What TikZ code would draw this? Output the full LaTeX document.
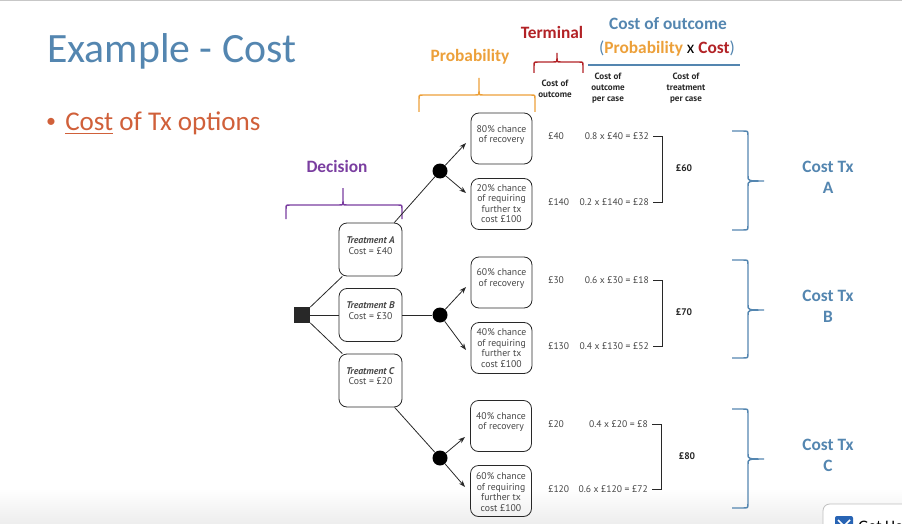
\documentclass[tikz,border=0pt]{standalone}
\usepackage{fontspec}
\setmainfont{Carlito}
\newfontfamily\tf{PT Sans}
\usetikzlibrary{arrows.meta,calc}
\definecolor{tblue}{RGB}{84,134,176}
\definecolor{borange}{RGB}{208,96,58}
\definecolor{porange}{RGB}{236,160,58}
\definecolor{tred}{RGB}{178,34,38}
\definecolor{dpurple}{RGB}{122,62,160}
\definecolor{ink}{RGB}{40,40,40}
\definecolor{txt}{RGB}{70,70,70}
\definecolor{wblue}{RGB}{40,100,180}
\newcommand\UpBrace[7]{\draw[#1] (#2,#7) -- (#2,#6+4) .. controls (#2,#6) .. (#2+4,#6) -- (#4-4,#6) .. controls (#4,#6) .. (#4,#6-4) -- (#4,#5) -- (#4,#6-4) .. controls (#4,#6) .. (#4+4,#6) -- (#3-4,#6) .. controls (#3,#6) .. (#3,#6+4) -- (#3,#7);}
\newcommand\RtBrace[4]{\draw[#1] (732,#2) -- (743,#2) .. controls (748,#2) .. (748,#2+5) -- (748,#3-5) .. controls (748,#3) .. (764,#3) .. controls (748,#3) .. (748,#3+5) -- (748,#4-5) .. controls (748,#4) .. (743,#4) -- (732,#4);}
\begin{document}
\begin{tikzpicture}[x=0.75pt,y=-0.75pt,
  tbox/.style={draw=ink, line width=0.6pt, rounded corners=6pt, minimum width=47.25pt, minimum height=39.75pt, inner sep=0pt},
  obox/.style={draw=ink, line width=0.6pt, rounded corners=6pt, minimum width=45.75pt, minimum height=38.25pt, inner sep=0pt},
  boxtxt/.style={font=\tf\fontsize{7.3}{7.9}\selectfont, text=txt, align=center, inner sep=0pt},
  chance/.style={circle, fill=black, minimum size=11.25pt, inner sep=0pt},
  decsq/.style={rectangle, fill=ink, minimum size=12pt, inner sep=0pt},
  edge/.style={draw=ink, line width=0.6pt},
  arr/.style={edge, -{Stealth[length=5pt,width=3.6pt]}},
  small/.style={font=\tf\fontsize{7.2}{8}\selectfont, text=txt, inner sep=0pt},
  smallb/.style={font=\tf\bfseries\fontsize{7.2}{8}\selectfont, text=ink, inner sep=0pt},
  hdr/.style={font=\tf\bfseries\fontsize{6.8}{8.2}\selectfont, text=ink, align=center, inner sep=0pt},
  big/.style={font=\bfseries\fontsize{13}{15.75}\selectfont, inner sep=0pt, align=center},
  brc/.style={line width=1.1pt}
]
\useasboundingbox (0,0) rectangle (902,524);
\begin{scope}
\clip (0,0) rectangle (902,524);
\shade[top color=white, bottom color=black!7] (0,488) rectangle (902,524);
\fill[black!22] (0,0) rectangle (902,1.5);
\draw[black!25, fill=white, rounded corners=5pt, line width=0.6pt] (823,504) rectangle (940,560);
\fill[wblue, rounded corners=1.5pt] (835,516) rectangle (853,534);
\draw[white, line width=1.2pt] (838,520) -- (844,526) -- (850,520);
\node[anchor=base west, inner sep=0pt, text={RGB,255:red,44;green,72;blue,110}, font=\fontsize{12}{14}\selectfont] (gh) at (858,531) {Get He};
\end{scope}

% title and bullet
\node[anchor=base west, inner sep=0pt, text=tblue, font=\fontsize{31.3}{36}\selectfont] (title) at (47,63) {Example - Cost};
\node[inner sep=0pt, text=borange, font=\fontsize{15}{18}\selectfont] (bul) at (51,123) {•};
\node[anchor=base west, inner sep=0pt, text=borange, font=\fontsize{20.3}{24}\selectfont] (btxt) at (65,131) {\underline{Cost} of Tx options};

% headings
\node[big, text=dpurple] (dec) at (337,166) {Decision};
\node[big, text=porange] (prob) at (470,57) {Probability};
\node[big, text=tred] (term) at (552,32) {Terminal};
\node[big, text=tblue] (coo) at (668,24) {Cost of outcome};
\node[big] (pxc) at (667,49) {{\color{tblue}\mdseries(}{\color{porange}Probability} {\color{black}\mdseries x} {\color{tred}Cost}{\color{tblue}\mdseries)}};
\draw[tblue, line width=1.8pt] (588,65) -- (740,65);

\UpBrace{brc, dpurple}{286}{402}{343}{188}{205}{219}
\UpBrace{brc, porange}{419}{535}{479}{78}{95}{112}
\UpBrace{brc, tred}{534}{583}{557}{53}{62}{73}

\node[hdr] (h1) at (555,88.5) {Cost of\\outcome};
\node[hdr] (h2) at (608,88) {Cost of\\outcome\\per case};
\node[hdr] (h3) at (686,88) {Cost of\\treatment\\per case};

% tree
\node[decsq] (D) at (302,315) {};
\node[tbox] (TA) at (370.5,249.5) {};
\node[tbox] (TB) at (370.5,315) {};
\node[tbox] (TC) at (370.5,380.5) {};
\node[boxtxt] (TAt) at (370.5,245.5) {\textbf{\textit{Treatment A}}\\Cost = £40};
\node[boxtxt] (TBt) at (370.5,310.5) {\textbf{\textit{Treatment B}}\\Cost = £30};
\node[boxtxt] (TCt) at (370.5,376) {\textbf{\textit{Treatment C}}\\Cost = £20};
\node[chance] (CA) at (440,171) {};
\node[chance] (CB) at (440,315) {};
\node[chance] (CC) at (440,458) {};
\node[obox] (A1) at (501.5,138.5) {};
\node[obox] (A2) at (501.5,204) {};
\node[obox] (B1) at (501.5,282.5) {};
\node[obox] (B2) at (501.5,348) {};
\node[obox] (C1) at (501,426) {};
\node[obox] (C2) at (501,491) {};
\node[boxtxt] (A1t) at (501.5,135) {80\% chance\\of recovery};
\node[boxtxt] (A2t) at (501.5,203.5) {20\% chance\\of requiring\\further tx\\cost £100};
\node[boxtxt] (B1t) at (501.5,278.5) {60\% chance\\of recovery};
\node[boxtxt] (B2t) at (501.5,348) {40\% chance\\of requiring\\further tx\\cost £100};
\node[boxtxt] (C1t) at (501,422) {40\% chance\\of recovery};
\node[boxtxt] (C2t) at (501,492) {60\% chance\\of requiring\\further tx\\cost £100};

\draw[edge] (D) -- (TA);
\draw[edge] (D) -- (TB);
\draw[edge] (D) -- (TC);
\draw[edge] (TA) -- (CA);
\draw[edge] (TB) -- (CB);
\draw[edge] (TC) -- (CC);
\coordinate (tA1) at (466,143);
\coordinate (tA2) at (466,193);
\coordinate (tB1) at (466,287);
\coordinate (tB2) at (466,350);
\coordinate (tC1) at (465,437);
\coordinate (tC2) at (465,487);
\draw[arr] (CA) -- (tA1);
\draw[arr] (CA) -- (tA2);
\draw[arr] (CB) -- (tB1);
\draw[arr] (CB) -- (tB2);
\draw[arr] (CC) -- (tC1);
\draw[arr] (CC) -- (tC2);

% costs
\node[small, anchor=west] (cA1) at (548,136) {£40};
\node[small, anchor=west] (cA2) at (548,202) {£140};
\node[small, anchor=west] (cB1) at (548,280) {£30};
\node[small, anchor=west] (cB2) at (548,346) {£130};
\node[small, anchor=west] (cC1) at (548,424) {£20};
\node[small, anchor=west] (cC2) at (548,489) {£120};
\node[small, anchor=east] (fA1) at (649,136) {0.8 x £40 = £32};
\node[small, anchor=east] (fA2) at (649,202) {0.2 x £140 = £28};
\node[small, anchor=east] (fB1) at (649,280) {0.6 x £30 = £18};
\node[small, anchor=east] (fB2) at (649,346) {0.4 x £130 = £52};
\node[small, anchor=east] (fC1) at (648,424) {0.4 x £20 = £8};
\node[small, anchor=east] (fC2) at (648,489) {0.6 x £120 = £72};
\draw[edge] ($(fA1.east)+(4,0)$) -- ++(9,0) |- ($(fA2.east)+(4,0)$);
\draw[edge] ($(fB1.east)+(4,0)$) -- ++(9,0) |- ($(fB2.east)+(4,0)$);
\draw[edge] ($(fC1.east)+(4,0)$) -- ++(9,0) |- ($(fC2.east)+(4,0)$);
\node[smallb] (tA) at (684,168) {£60};
\node[smallb] (tB) at (684,312) {£70};
\node[smallb] (tC) at (687,456) {£80};

\RtBrace{brc, tblue}{131}{181}{230}
\RtBrace{brc, tblue}{260}{310}{358}
\RtBrace{brc, tblue}{409}{459}{508}
\node[big, text=tblue] (ctA) at (828,177.5) {Cost Tx\\A};
\node[big, text=tblue] (ctB) at (828,306.5) {Cost Tx\\B};
\node[big, text=tblue] (ctC) at (828,455) {Cost Tx\\C};
\end{tikzpicture}
\end{document}
